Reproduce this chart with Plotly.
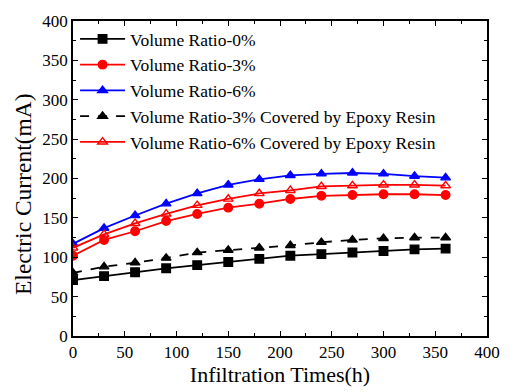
import plotly.graph_objects as go

# Infiltration time (h)
hours = [0, 30, 60, 90, 120, 150, 180, 210, 240, 270, 300, 330, 360]

# Electric current (mA) for each specimen group
ratio_0 = [71, 76, 81, 86, 90, 94, 98, 102, 104, 106, 108, 110, 111]
ratio_3 = [102, 122, 133, 146, 155, 163, 168, 174, 178, 179, 180, 180, 179]
ratio_6 = [117, 137, 153, 168, 181, 192, 199, 204, 206, 207, 206, 203, 201]
ratio_3_epoxy = [80, 88, 93, 99, 106, 109, 112, 115, 119, 122, 124, 125, 125]
ratio_6_epoxy = [112, 129, 143, 155, 166, 174, 181, 185, 190, 191, 192, 192, 191]

x_ticks = [0, 50, 100, 150, 200, 250, 300, 350, 400]
y_ticks = [0, 50, 100, 150, 200, 250, 300, 350, 400]

FONT = "Liberation Serif"
RED = "#ff0000"
BLUE = "#0000ff"

series = [
    ("Volume Ratio-0%", ratio_0, "black", "solid", "square"),
    ("Volume Ratio-3%", ratio_3, RED, "solid", "circle"),
    ("Volume Ratio-6%", ratio_6, BLUE, "solid", "triangle-up"),
    ("Volume Ratio-3% Covered by Epoxy Resin", ratio_3_epoxy, "black", "dash", "triangle-up"),
    ("Volume Ratio-6% Covered by Epoxy Resin", ratio_6_epoxy, RED, "solid", "triangle-up-open"),
]

fig = go.Figure()
for name, ys, color, dash, symbol in series:
    fig.add_trace(go.Scatter(
        x=hours, y=ys, name=name, mode="lines+markers",
        line=dict(color=color, width=1.8, dash=dash),
        marker=dict(symbol=symbol, size=8.5, color=color,
                    line=dict(color=color, width=1.4)),
    ))

axis_common = dict(
    showline=True, linecolor="black", linewidth=1.6, mirror="ticks",
    ticks="inside", ticklen=5, tickwidth=1.3, tickcolor="black",
    showgrid=False, zeroline=False,
    tickfont=dict(family=FONT, size=17, color="black"),
    minor=dict(ticks="inside", ticklen=3, tickwidth=1.1, tickcolor="black", dtick=25),
)

fig.update_xaxes(range=[0, 400], tickvals=x_ticks,
                 title=dict(text="Infiltration Times(h)", font=dict(family=FONT, size=22, color="black"),
                            standoff=2),
                 **axis_common)
fig.update_yaxes(range=[0, 400], tickvals=y_ticks, **axis_common)

# y-axis title, set slightly below the middle of the axis
fig.add_annotation(text="Electric Current(mA)", textangle=-90,
                   xref="paper", yref="paper", x=-0.119, y=0.45,
                   xanchor="center", yanchor="middle", showarrow=False,
                   font=dict(family=FONT, size=23.5, color="black"))

fig.update_layout(
    width=512, height=392,
    margin=dict(l=73, r=15, t=18, b=55),
    paper_bgcolor="white", plot_bgcolor="white",
    font=dict(family=FONT, color="black"),
    legend=dict(x=0.005, y=1.0, xanchor="left", yanchor="top",
                bgcolor="rgba(0,0,0,0)", font=dict(family=FONT, size=17.5, color="black"),
                tracegroupgap=0, itemwidth=45),
    showlegend=True,
)

fig.write_html("out.html")
